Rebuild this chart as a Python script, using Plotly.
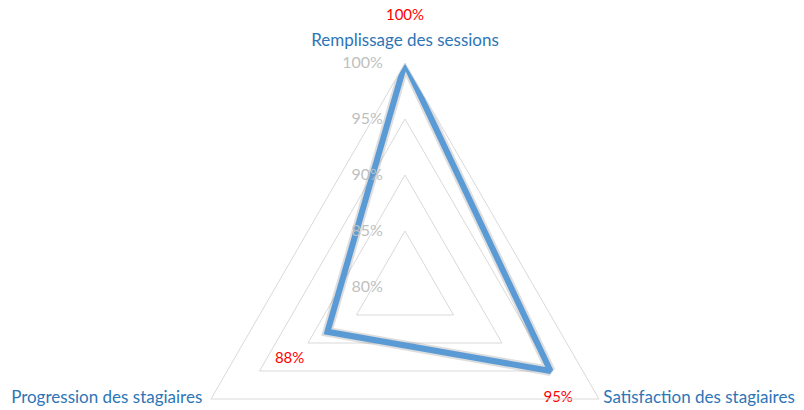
import plotly.graph_objects as go

categories = ["Remplissage des sessions", "Satisfaction des stagiaires", "Progression des stagiaires"]
values = [100, 95, 88]
data_labels = ["100%", "95%", "88%"]
radial_range = [80, 100]
radial_ticks = [80, 85, 90, 95, 100]
radial_tick_labels = ["80%", "85%", "90%", "95%", "100%"]

W, H = 804, 512
FONT = "Lato"
NB = "\u00a0"
theta = categories + [categories[0]]
r = values + [values[0]]

fig = go.Figure()
# soft shadow under the line
fig.add_trace(go.Scatterpolar(
    r=r, theta=theta, mode="lines",
    line=dict(color="rgba(0,0,0,0.13)", width=10),
    hoverinfo="skip", showlegend=False,
))
fig.add_trace(go.Scatterpolar(
    r=r, theta=theta, mode="lines",
    line=dict(color="#5B9BD5", width=6),
    showlegend=False,
))
# data labels
fig.add_trace(go.Scatterpolar(
    r=values, theta=categories, mode="text",
    text=[data_labels[0] + "<br> <br> ",
          " <br>" + NB * 4 + data_labels[1],
          " <br>" + data_labels[2] + NB * 6],
    textposition=["top center", "bottom center", "bottom left"],
    textfont=dict(color="#FF0000", size=15, family=FONT),
    cliponaxis=False, showlegend=False, hoverinfo="skip",
))
# category labels at the two lower corners
fig.add_trace(go.Scatterpolar(
    r=[radial_range[1]] * 2, theta=categories[1:], mode="text",
    text=[NB + categories[1], categories[2] + NB * 2],
    textposition=["middle right", "middle left"],
    textfont=dict(color="#2E75B6", size=17, family=FONT),
    cliponaxis=False, showlegend=False, hoverinfo="skip",
))

fig.update_layout(
    width=W, height=H,
    margin=dict(l=0, r=0, t=63, b=1),
    paper_bgcolor="white",
    plot_bgcolor="white",
    polar=dict(
        domain=dict(x=[(405 - 224) / W, (405 + 224) / W], y=[0, 1]),
        gridshape="linear",
        bgcolor="white",
        radialaxis=dict(
            range=radial_range, angle=90, tickangle=90,
            tickvals=radial_ticks, ticktext=radial_tick_labels,
            tickfont=dict(color="#BFBFBF", size=16, family=FONT),
            showline=False, ticks="outside", ticklen=16, tickcolor="rgba(0,0,0,0)",
            gridcolor="#D9D9D9", gridwidth=1,
            side="counterclockwise",
        ),
        angularaxis=dict(
            direction="clockwise", rotation=90,
            tickmode="array", tickvals=categories,
            ticktext=[categories[0], " ", " "],
            showgrid=False, showline=True, linecolor="#D9D9D9", linewidth=1,
            ticks="outside", ticklen=10, tickcolor="rgba(0,0,0,0)",
            tickfont=dict(color="#2E75B6", size=17, family=FONT),
        ),
    ),
)

fig.write_html("out.html", config={"displayModeBar": False},
               post_script="document.body.style.margin='0';document.body.style.overflow='hidden';")
